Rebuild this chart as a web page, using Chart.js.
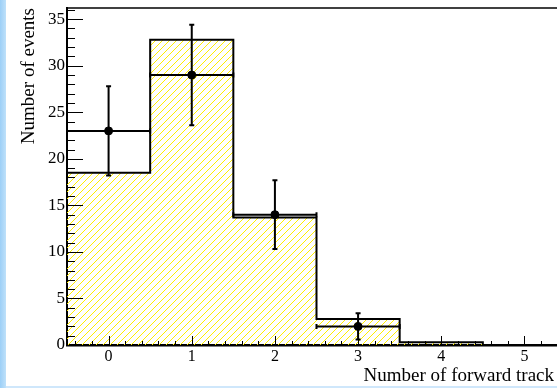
<!DOCTYPE html>
<html>
<head>
<meta charset="utf-8">
<script src="https://cdn.jsdelivr.net/npm/chart.js@4.4.1/dist/chart.umd.min.js"></script>
<style>
  html, body { margin:0; padding:0; background:#fff; overflow:hidden; width:557px; height:388px; }
  #wrap { position:absolute; left:0; top:0; width:580px; height:388px; }
  #strip { position:absolute; left:0; top:0; width:6px; height:388px; background:linear-gradient(to right,#9ccff7,#bfe1fa); }
  #bottom { position:absolute; left:6px; bottom:0; width:551px; height:2px; background:#cfe7fb; }
</style>
</head>
<body>
<div id="wrap"><canvas id="c"></canvas></div>
<div id="strip"></div>
<div id="bottom"></div>
<script>
// histogram binning (edges) and values
const binEdges = [-0.5, 0.5, 1.5, 2.5, 3.5, 4.5, 5.5]
const mcValues = [18.5, 32.8, 13.7, 2.8, 0.3, 0]
const dataCenters = [0, 1, 2, 3]
const dataValues = [23, 29, 14, 2]
const dataErrors = [4.8, 5.4, 3.7, 1.4]
const xTickValues = [0, 1, 2, 3, 4, 5]
const yTickValues = [0, 5, 10, 15, 20, 25, 30, 35]

const serif = '"Liberation Serif", "DejaVu Serif", serif'

// yellow "/" hatch like ROOT fill style 3004
function hatch() {
  const n = 7
  const p = document.createElement('canvas')
  p.width = n; p.height = n
  const g = p.getContext('2d')
  g.strokeStyle = 'rgb(255,238,0)'
  g.lineWidth = 1
  g.beginPath()
  g.moveTo(-1, n + 1); g.lineTo(n + 1, -1)
  g.moveTo(-n - 1, n + 1 - n); g.lineTo(1, -1 - n)
  g.moveTo(n - 1, 2 * n + 1); g.lineTo(2 * n + 1, n - 1)
  g.stroke()
  return g.createPattern(p, 'repeat')
}

// step outline: value of bin i held from edge i to edge i+1
const mcPoints = binEdges.map((x, i) => ({ x: x, y: i < mcValues.length ? mcValues[i] : 0 }))
const dataPoints = dataCenters.map((x, i) => ({ x: x, y: dataValues[i] }))

const rootStyle = {
  id: 'rootStyle',
  afterDatasetsDraw(chart) {
    const ctx = chart.ctx
    const xs = chart.scales.x, ys = chart.scales.y
    ctx.save()
    ctx.strokeStyle = '#000'
    ctx.lineWidth = 2
    dataCenters.forEach((c, i) => {
      const px = xs.getPixelForValue(c)
      const py = ys.getPixelForValue(dataValues[i])
      const top = ys.getPixelForValue(dataValues[i] + dataErrors[i])
      const bot = ys.getPixelForValue(dataValues[i] - dataErrors[i])
      const xl = xs.getPixelForValue(binEdges[i])
      const xr = xs.getPixelForValue(binEdges[i + 1])
      ctx.beginPath()
      ctx.moveTo(px, top); ctx.lineTo(px, bot)
      ctx.moveTo(px - 2.5, top); ctx.lineTo(px + 2.5, top)
      ctx.moveTo(px - 2.5, bot); ctx.lineTo(px + 2.5, bot)
      ctx.moveTo(xl, py); ctx.lineTo(xr, py)
      ctx.moveTo(xl, py - 2.5); ctx.lineTo(xl, py + 2.5)
      ctx.moveTo(xr, py - 2.5); ctx.lineTo(xr, py + 2.5)
      ctx.stroke()
    })
    ctx.restore()
  },
  afterDraw(chart) {
    const ctx = chart.ctx
    const xs = chart.scales.x, ys = chart.scales.y
    const area = chart.chartArea
    ctx.save()
    ctx.strokeStyle = '#000'
    ctx.lineWidth = 1
    // y ticks, pointing into the frame
    for (let v = 0; v <= ys.max; v += 1) {
      const py = Math.round(ys.getPixelForValue(v)) + 0.5
      const len = v % 5 === 0 ? 16 : 8
      ctx.beginPath(); ctx.moveTo(area.left, py); ctx.lineTo(area.left + len, py); ctx.stroke()
    }
    // x ticks
    for (let k = -2; k <= 27; k++) {
      const v = k * 0.2
      const px = Math.round(xs.getPixelForValue(v)) + 0.5
      const len = k % 5 === 0 ? 9 : 4
      ctx.beginPath(); ctx.moveTo(px, area.bottom); ctx.lineTo(px, area.bottom - len); ctx.stroke()
    }
    // top frame line
    ctx.lineWidth = 1.5
    ctx.beginPath(); ctx.moveTo(area.left, area.top); ctx.lineTo(area.right, area.top); ctx.stroke()
    // x axis title, right aligned near end of axis
    ctx.fillStyle = '#000'
    ctx.font = '19px ' + serif
    ctx.textAlign = 'right'
    ctx.textBaseline = 'alphabetic'
    ctx.fillText('Number of forward track', xs.right - 12, chart.height - 7)
    ctx.restore()
  }
}

new Chart(document.getElementById('c'), {
  type: 'scatter',
  data: {
    datasets: [
      {
        label: 'data',
        data: dataPoints,
        backgroundColor: '#000',
        borderColor: '#000',
        pointRadius: 4,
        pointHoverRadius: 4,
        order: 0
      },
      {
        type: 'line',
        label: 'MC',
        data: mcPoints,
        stepped: 'before',
        borderColor: '#000',
        borderWidth: 2,
        backgroundColor: hatch(),
        fill: 'origin',
        pointRadius: 0,
        order: 2
      }
    ]
  },
  options: {
    responsive: true,
    maintainAspectRatio: false,
    animation: false,
    layout: { padding: { top: 8, right: 14, left: 0, bottom: 0 } },
    plugins: { legend: { display: false }, tooltip: { enabled: false } },
    scales: {
      x: {
        type: 'linear',
        min: -0.5,
        max: 5.5,
        grid: { display: false, drawTicks: false },
        border: { display: true, color: '#000', width: 2.5 },
        afterBuildTicks(s) { s.ticks = xTickValues.map(v => ({ value: v })) },
        afterFit(s) { s.height = 43; s.paddingLeft = 0; s.paddingRight = 0 },
        ticks: {
          color: '#000',
          padding: 2,
          maxRotation: 0,
          autoSkip: false,
          font: { family: serif, size: 16 },
          callback: v => String(v)
        }
      },
      y: {
        min: 0,
        max: 36.2,
        grid: { display: false, drawTicks: false },
        border: { display: true, color: '#000', width: 2 },
        afterBuildTicks(s) { s.ticks = yTickValues.map(v => ({ value: v })) },
        afterFit(s) { s.width = 67; s.paddingTop = 0; s.paddingBottom = 0 },
        ticks: {
          color: '#000',
          padding: 2,
          font: { family: serif, size: 17 },
          callback: v => String(v)
        },
        title: {
          display: true,
          text: 'Number of events',
          align: 'end',
          color: '#000',
          font: { family: serif, size: 19 },
          padding: { top: 18, bottom: 0 }
        }
      }
    }
  },
  plugins: [rootStyle]
})
</script>
</body>
</html>
